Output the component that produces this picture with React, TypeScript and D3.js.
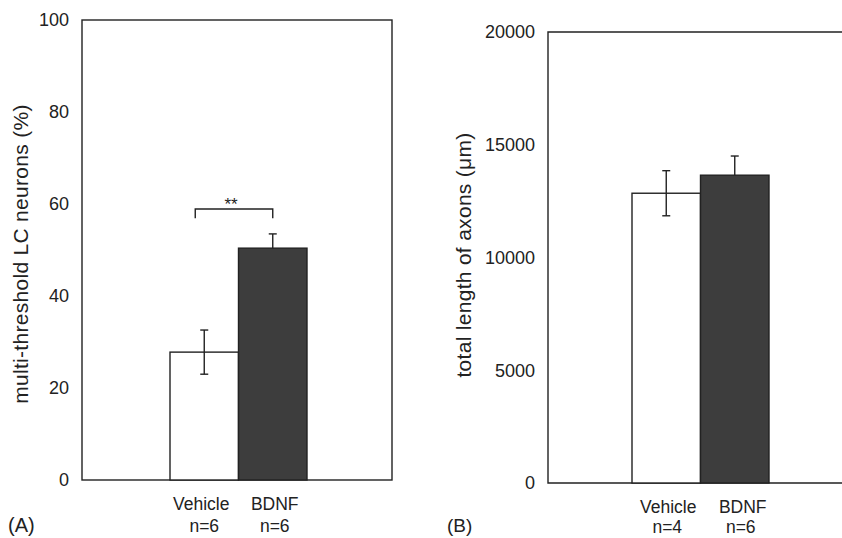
import React, { useEffect, useRef } from "react";
import * as d3 from "d3";

// panel A: multi-threshold LC neurons (%)
const groupsA = ["Vehicle", "BDNF"];
const nA = ["n=6", "n=6"];
const meanA = [27.8, 50.4];
const errA = [4.8, 3.1];
const ticksA = [0, 20, 40, 60, 80, 100];

// panel B: total length of axons (um)
const groupsB = ["Vehicle", "BDNF"];
const nB = ["n=4", "n=6"];
const meanB = [12850, 13650];
const errB = [1000, 850];
const ticksB = [0, 5000, 10000, 15000, 20000];

const fills = ["#ffffff", "#3d3d3d"];
const FONT = "'Liberation Sans', Arial, Helvetica, sans-serif";
const INK = "#222";

export default function App() {
  const ref = useRef<SVGSVGElement>(null);

  useEffect(() => {
    const svg = d3.select(ref.current);
    svg.selectAll("*").remove();

    function panel(opts: {
      left: number; right: number; top: number; bottom: number;
      max: number; ticks: number[]; groups: string[]; ns: string[];
      means: number[]; errs: number[]; barX0: number; barX1: number;
      label: string; labelX: number; labelY: number; tag: string; tagX: number; tagSize: number;
      closed: boolean; showLowerErr: boolean[]; catShift: number[]; nShift: number[]; nY: number;
    }) {
      const y = d3.scaleLinear().domain([0, opts.max]).range([opts.bottom, opts.top]);
      const x = d3.scaleBand<string>().domain(opts.groups).range([opts.barX0, opts.barX1]).padding(0);
      const g = svg.append("g");

      // frame
      if (opts.closed) {
        g.append("rect")
          .attr("x", opts.left).attr("y", opts.top)
          .attr("width", opts.right - opts.left).attr("height", opts.bottom - opts.top)
          .attr("fill", "none").attr("stroke", INK).attr("stroke-width", 1.4);
      } else {
        g.append("path")
          .attr("d", `M${opts.right},${opts.top}H${opts.left}V${opts.bottom}H${opts.right}`)
          .attr("fill", "none").attr("stroke", INK).attr("stroke-width", 1.4);
      }

      // tick labels
      g.selectAll(".tk").data(opts.ticks).enter().append("text")
        .attr("x", opts.left - 13)
        .attr("y", (d) => y(d))
        .attr("dy", "0.36em")
        .attr("text-anchor", "end")
        .style("font-family", FONT).style("font-size", "18px").attr("fill", INK)
        .text((d) => String(d));

      // bars
      g.selectAll(".bar").data(opts.means).enter().append("rect")
        .attr("x", (_, i) => x(opts.groups[i])!)
        .attr("y", (d) => y(d))
        .attr("width", x.bandwidth())
        .attr("height", (d) => opts.bottom - y(d))
        .attr("fill", (_, i) => fills[i])
        .attr("stroke", INK).attr("stroke-width", 1.4);

      // error bars
      opts.means.forEach((m, i) => {
        const cx = x(opts.groups[i])! + x.bandwidth() / 2;
        const lo = opts.showLowerErr[i] ? m - opts.errs[i] : m;
        const hi = m + opts.errs[i];
        g.append("line").attr("x1", cx).attr("x2", cx).attr("y1", y(lo)).attr("y2", y(hi))
          .attr("stroke", INK).attr("stroke-width", 1.4);
        g.append("line").attr("x1", cx - 4).attr("x2", cx + 4).attr("y1", y(hi)).attr("y2", y(hi))
          .attr("stroke", INK).attr("stroke-width", 1.4);
        if (opts.showLowerErr[i]) {
          g.append("line").attr("x1", cx - 4).attr("x2", cx + 4).attr("y1", y(lo)).attr("y2", y(lo))
            .attr("stroke", INK).attr("stroke-width", 1.4);
        }
      });

      // category labels
      opts.groups.forEach((c, i) => {
        const cx = x(c)! + x.bandwidth() / 2;
        g.append("text").attr("x", cx + opts.catShift[i]).attr("y", opts.bottom + 30)
          .attr("text-anchor", "middle").style("font-family", FONT).style("font-size", "17.5px")
          .attr("fill", INK).text(c);
        g.append("text").attr("x", cx + opts.nShift[i]).attr("y", opts.nY)
          .attr("text-anchor", "middle").style("font-family", FONT).style("font-size", "17.5px")
          .attr("fill", INK).text(opts.ns[i]);
      });

      // axis title
      g.append("text")
        .attr("transform", `translate(${opts.labelX},${opts.labelY}) rotate(-90)`)
        .attr("text-anchor", "middle").style("font-family", FONT).style("font-size", "21px")
        .style("letter-spacing", "0.3px")
        .attr("fill", INK).text(opts.label);

      // panel tag
      g.append("text").attr("x", opts.tagX).attr("y", 532)
        .style("font-family", FONT).style("font-size", `${opts.tagSize}px`).attr("fill", INK)
        .text(opts.tag);

      return { x, y, g };
    }

    const A = panel({
      left: 82, right: 392, top: 20, bottom: 480, max: 100, ticks: ticksA,
      groups: groupsA, ns: nA, means: meanA, errs: errA, barX0: 170, barX1: 307,
      label: "multi-threshold LC neurons (%)", labelX: 28, labelY: 254, tag: "(A)", tagX: 8, tagSize: 20,
      closed: true, showLowerErr: [true, false], catShift: [-3, 2], nShift: [0, 2], nY: 532,
    });

    panel({
      left: 548, right: 842, top: 32, bottom: 483, max: 20000, ticks: ticksB,
      groups: groupsB, ns: nB, means: meanB, errs: errB, barX0: 632, barX1: 769,
      label: "total length of axons (\u03bcm)", labelX: 471, labelY: 255, tag: "(B)", tagX: 447, tagSize: 19,
      closed: false, showLowerErr: [true, false], catShift: [2, 8], nShift: [1, 6], nY: 533,
    });

    // significance bracket in panel A
    const bx0 = A.x(groupsA[0])! + A.x.bandwidth() / 2 - 9;
    const bx1 = A.x(groupsA[1])! + A.x.bandwidth() / 2;
    const by = A.y(58.9);
    const byEnd = A.y(56.9);
    A.g.append("path")
      .attr("d", `M${bx0},${byEnd}V${by}H${bx1}V${byEnd}`)
      .attr("fill", "none").attr("stroke", INK).attr("stroke-width", 1.4);
    A.g.append("text").attr("x", (bx0 + bx1) / 2 - 3).attr("y", by + 1)
      .attr("text-anchor", "middle").style("font-family", FONT).style("font-size", "17px")
      .attr("fill", INK).text("**");
  }, []);

  return (
    <div style={{ position: "absolute", left: 0, top: 0 }}>
      <svg ref={ref} width={842} height={538} style={{ display: "block", background: "#fff" }} />
    </div>
  );
}
